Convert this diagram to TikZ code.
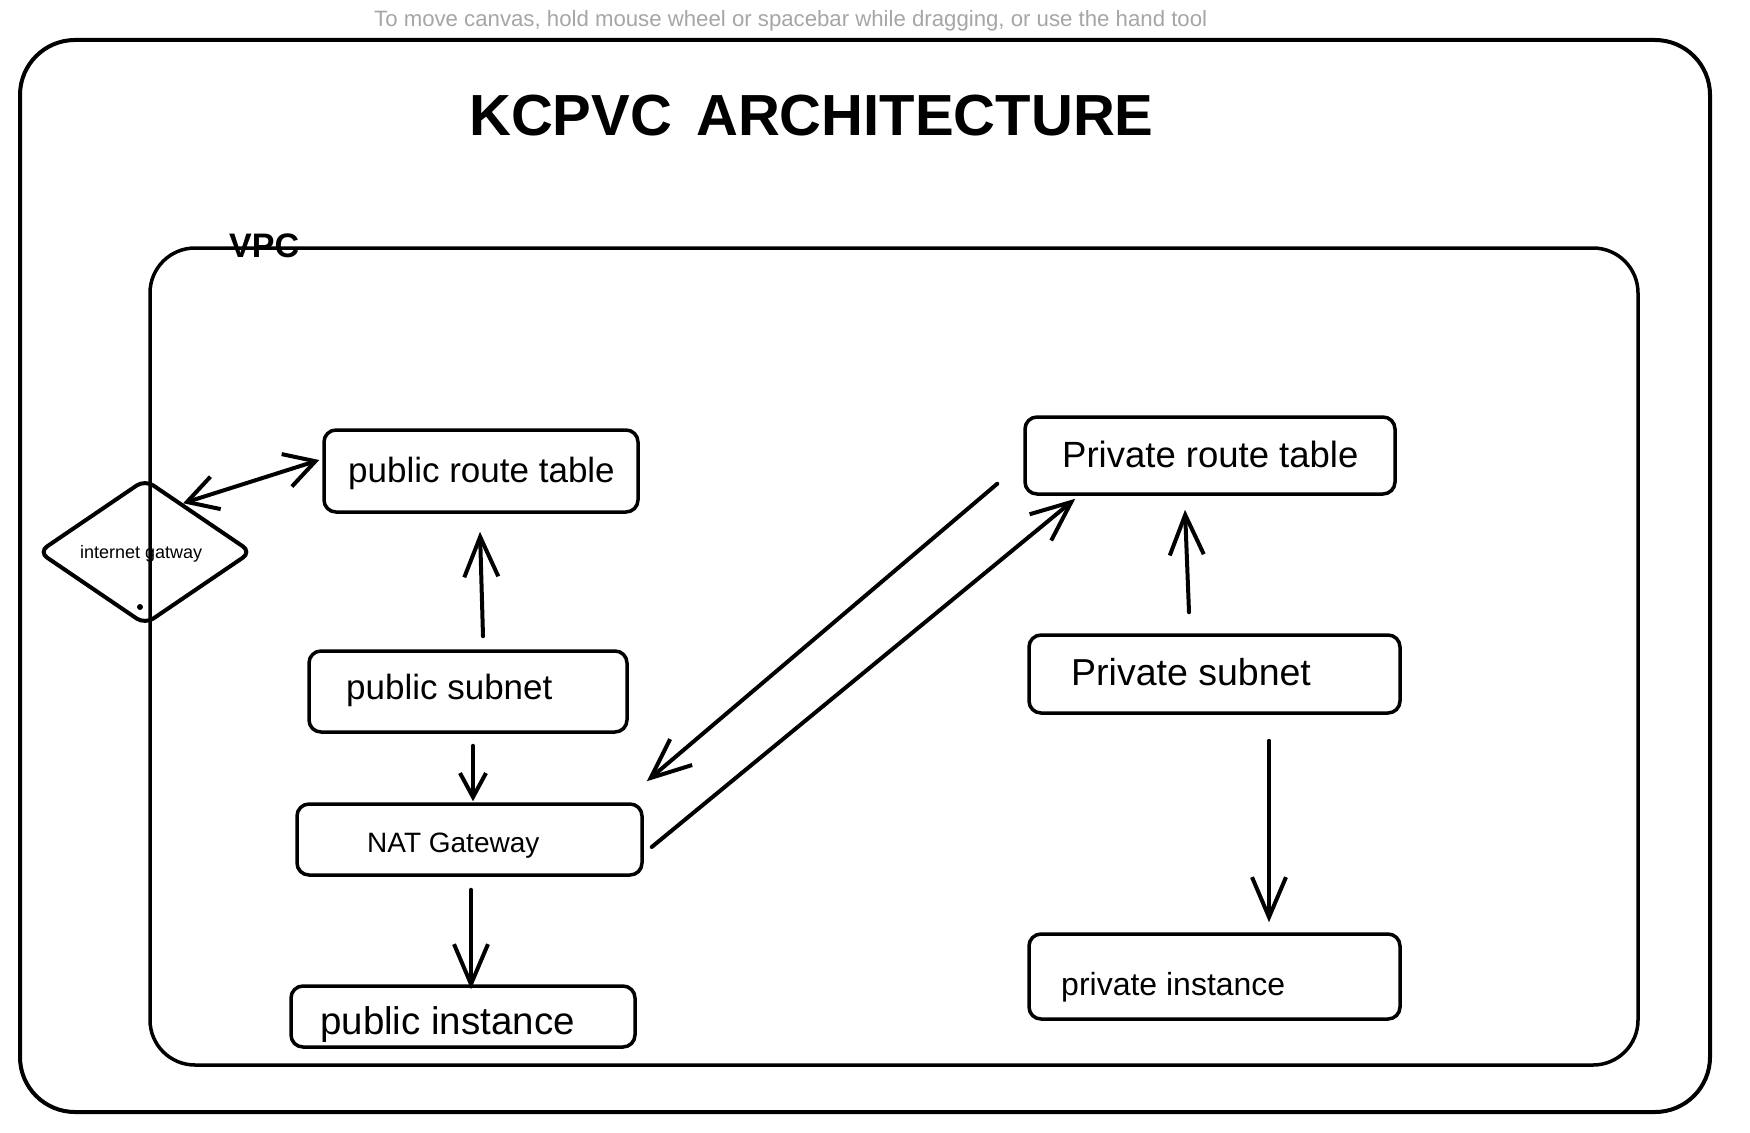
\documentclass[tikz,border=0pt]{standalone}
\usepackage{fontspec}
\setmainfont{Liberation Sans}
\usetikzlibrary{arrows.meta,shapes.geometric}
\tikzset{
  box/.style={draw, line width=3.5pt, rounded corners=12pt, inner sep=0pt},
  lbl/.style={anchor=base west, inner sep=0pt},
  conn/.style={line width=4pt, line cap=round, -{Straight Barb[length=40pt,width=34pt,line width=4pt]}},
  sconn/.style={line width=4pt, line cap=round, -{Straight Barb[length=24pt,width=26pt,line width=4pt]}},
}
\newcommand{\fs}[1]{\fontsize{#1}{#1}\selectfont}
\begin{document}
\begin{tikzpicture}[x=1pt,y=-1pt]
\useasboundingbox (0,0) rectangle (1750,1132);
\fill[white] (0,0) rectangle (1750,1132);
% hint
\node[lbl, text=black!35] (hint) at (374,27) {\fs{22.2}To move canvas, hold mouse wheel or spacebar while dragging, or use the hand tool};
% outer frame
\node[box, line width=4pt, rounded corners=55pt, minimum width=1690pt, minimum height=1072pt] (frame) at (865,576) {};
\node[lbl] (title) at (469,135) {\fs{58}\bfseries KCPVC\hspace{24pt}ARCHITECTURE};
% internet gateway diamond
\node[draw, diamond, line width=4pt, rounded corners=10pt, minimum width=214pt, minimum height=146pt, inner sep=0pt] (igw) at (145,552) {};
\node[lbl] (igwt) at (80,558) {\fs{18}internet gatway};
\node[circle, fill, inner sep=0pt, minimum size=6pt] (dot) at (140,607) {};
% VPC
\node[box, rounded corners=45pt, minimum width=1488pt, minimum height=817pt] (vpc) at (894,656.5) {};
\node[lbl] (vpct) at (229,257) {\fs{34}\bfseries VPC};
% boxes
\node[box, minimum width=314pt, minimum height=82pt] (prt) at (481,471) {};
\node[lbl] (prtt) at (348,482) {\fs{35}public route table};
\node[box, minimum width=318pt, minimum height=81pt] (psub) at (468,691.5) {};
\node[lbl] (psubt) at (346,699) {\fs{35}public subnet};
\node[box, minimum width=345pt, minimum height=71pt] (nat) at (469.5,839.5) {};
\node[lbl] (natt) at (367,852) {\fs{28}NAT Gateway};
\node[box, minimum width=344pt, minimum height=61pt] (pinst) at (463,1016.5) {};
\node[lbl] (pinstt) at (320,1034) {\fs{38.5}public instance};
\node[box, minimum width=370pt, minimum height=77pt] (vrt) at (1210,455.5) {};
\node[lbl] (vrtt) at (1062,467) {\fs{36.5}Private route table};
\node[box, minimum width=371pt, minimum height=78pt] (vsub) at (1214.5,674) {};
\node[lbl] (vsubt) at (1071,685) {\fs{37.5}Private subnet};
\node[box, minimum width=371pt, minimum height=85pt] (vinst) at (1214.5,976.5) {};
\node[lbl] (vinstt) at (1061,995) {\fs{32}private instance};
% connectors
\draw[line width=4pt, line cap=round, {Straight Barb[length=30pt,width=34pt,line width=4pt]}-{Straight Barb[length=30pt,width=34pt,line width=4pt]}]
  (igw.52) -- ([xshift=-3pt,yshift=11pt]prt.west);
\draw[conn] ([xshift=15pt,yshift=13pt]psub.north) -- ([xshift=-1pt,yshift=-18pt]prt.south);
\draw[sconn] ([xshift=5pt,yshift=-12pt]psub.south) -- ([xshift=3.5pt,yshift=1pt]nat.north);
\draw[conn] ([xshift=1.5pt,yshift=-13pt]nat.south) -- ([xshift=8pt,yshift=-5pt]pinst.north);
\draw[conn] ([xshift=-26pt,yshift=12pt]vrt.south west) -- ([xshift=3pt,yshift=21pt]nat.north east);
\draw[conn] ([xshift=8pt,yshift=-7.5pt]nat.east) -- ([xshift=52pt,yshift=-3pt]vrt.south west);
\draw[conn] ([xshift=-25.5pt,yshift=21pt]vsub.north) -- ([xshift=-25pt,yshift=-14pt]vrt.south);
\draw[conn] ([xshift=54.5pt,yshift=-26pt]vsub.south) -- ([xshift=54.5pt,yshift=10pt]vinst.north);
\end{tikzpicture}
\end{document}
